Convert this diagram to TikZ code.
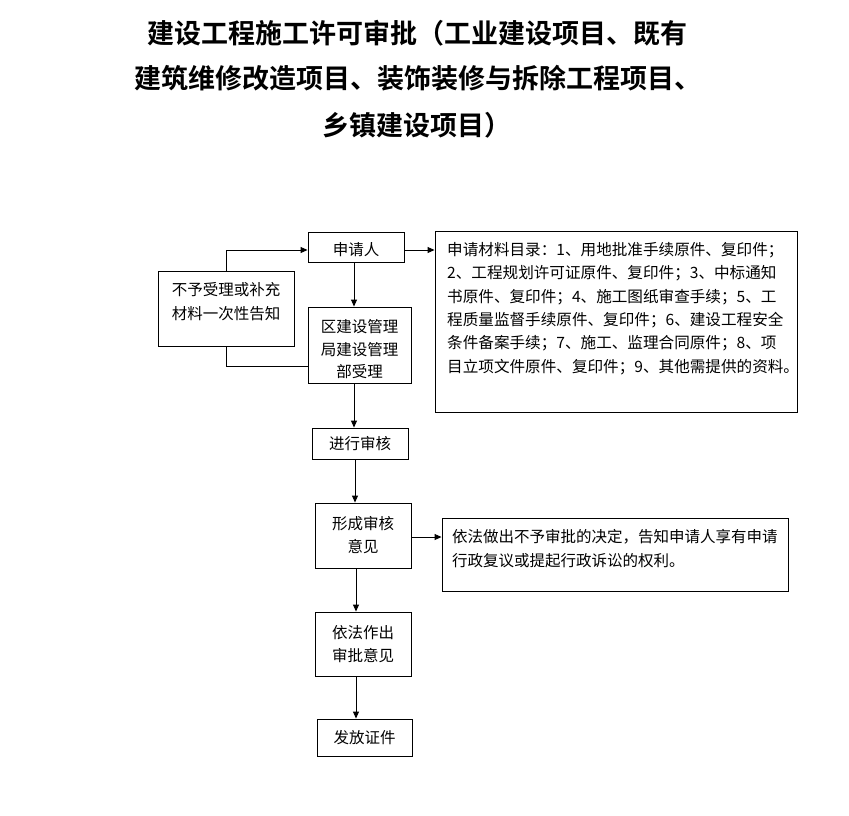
\documentclass[tikz,border=0pt]{standalone}
\usepackage{fontspec}
\setmainfont{Noto Sans CJK SC}[BoldFont={Noto Sans CJK SC Bold}]
\usetikzlibrary{arrows.meta}
\tikzset{
  box/.style={draw=black, line width=0.9pt, inner sep=0pt, align=center,
    font=\fontsize{15.5}{23}\selectfont},
  txt/.style={inner sep=0pt, align=left, font=\fontsize{15.5}{23.4}\selectfont},
  ttl/.style={inner sep=0pt, anchor=west, font=\fontsize{27}{30}\selectfont\bfseries},
  arr/.style={line width=0.9pt, -{Triangle[length=7pt,width=6pt]}},
  ln/.style={line width=0.9pt}
}
\begin{document}
\begin{tikzpicture}[x=1pt,y=-1pt]
\useasboundingbox[fill=white] (0,0) rectangle (849,815);
% title
\node[ttl] (t1) at (147,33) {建设工程施工许可审批（工业建设项目、既有};
\node[ttl] (t2) at (134,78) {建筑维修改造项目、装饰装修与拆除工程项目、};
\node[ttl] (t3) at (322,125) {乡镇建设项目）};
% boxes
\node[box, minimum width=96pt, minimum height=30pt] (appl) at (356,247) {};
\node[txt] (applT) at (356,250) {申请人};
\node[box, minimum width=136pt, minimum height=75pt] (reject) at (226,308.5) {};
\node[txt, align=center] (rejectT) at (226,301.5) {不予受理或补充\\材料一次性告知};
\node[box, minimum width=103pt, minimum height=76pt] (accept) at (359.5,345) {};
\node[txt, align=center, font=\fontsize{15.5}{22.5}\selectfont] (acceptT) at (359.5,349.5) {区建设管理\\局建设管理\\部受理};
\node[box, minimum width=96pt, minimum height=31pt] (review) at (360,443.5) {进行审核};
\node[box, minimum width=96pt, minimum height=65pt] (opinion) at (363,535.5) {形成审核\\意见};
\node[box, minimum width=96pt, minimum height=64pt] (decide) at (363,644) {依法作出\\审批意见};
\node[box, minimum width=95pt, minimum height=37pt] (issue) at (364.5,737.5) {发放证件};
\node[box, minimum width=362pt, minimum height=181pt] (mat) at (616,321.5) {};
\node[txt, anchor=west, font=\fontsize{15.6}{23.4}\selectfont] (matT) at (447,308.5) {申请材料目录：1、用地批准手续原件、复印件；\\2、工程规划许可证原件、复印件；3、中标通知\\书原件、复印件；4、施工图纸审查手续；5、工\\程质量监督手续原件、复印件；6、建设工程安全\\条件备案手续；7、施工、监理合同原件；8、项\\目立项文件原件、复印件；9、其他需提供的资料。};
\node[box, minimum width=346pt, minimum height=73pt] (deny) at (615,554.5) {};
\node[txt, anchor=west] (denyT) at (452,548.5) {依法做出不予审批的决定，告知申请人享有申请\\行政复议或提起行政诉讼的权利。};
% connectors
\draw[arr] ([xshift=-2pt]appl.south) -- ([xshift=-2pt]appl.south |- accept.north);
\draw[arr] ([xshift=-5.5pt]accept.south) -- ([xshift=-5.5pt]accept.south |- review.north);
\draw[arr] ([xshift=-5pt]review.south) -- ([xshift=-5pt]review.south |- opinion.north);
\draw[arr] ([xshift=-7pt]opinion.south) -- ([xshift=-7pt]opinion.south |- decide.north);
\draw[arr] ([xshift=-7pt]decide.south) -- ([xshift=-7pt]decide.south |- issue.north);
\draw[arr] ([yshift=-3pt]appl.east) -- ([yshift=-3pt]appl.east -| mat.west);
\draw[arr] ([yshift=-1.5pt]opinion.east) -- ([yshift=-1.5pt]opinion.east -| deny.west);
\draw[ln] ([yshift=-21pt]accept.west) -| (reject.south);
\draw[arr] (reject.north) |- ([yshift=-3pt]appl.west);
\end{tikzpicture}
\end{document}
